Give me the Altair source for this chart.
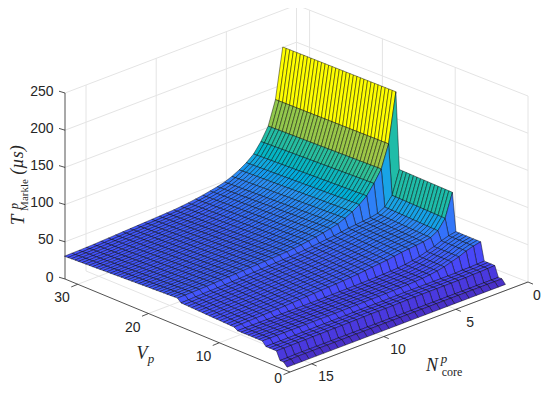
import altair as alt
import numpy as np

# ---- values ----
V_values = [0.5,1,1.5,2,2.5,3,3.5,4,4.5,5,5.5,6,6.5,7,7.5,8,8.5,9,9.5,10,10.5,11,11.5,12,12.5,13,13.5,14,14.5,15,15.5,
            16,16.5,17,17.5,18,18.5,19,19.5,20,20.5,21,21.5,22,22.5,23,23.5,24,24.5,25,25.5,26,26.5,27,27.5,28,28.5,29,29.5,30,30.5,31,31.5,32]
N_values = [1.33,1.84,2.35,2.86,3.37,3.88,4.38,4.89,5.40,5.91,6.42,6.93,7.44,7.95,8.45,8.96,9.47,9.98,10.49,11.0,11.5,
            12.01,12.52,13.03,13.54,14.05,14.56,15.07,15.58,16.08,16.6]
band_edges = [1, 2, 4, 8, 16]
# height along N for each V band, shortest-V band first
band_1_2 = [4.5,4.5,4.5,4.5,4.5,4.5,4.5,4.5,4.5,4.5,4.5,4.5,4.5,4.5,4.5,4.5,4.5,4.5,4.5,4.5,4.5,4.5,4.5,4.5,4.5,4.5,4.5,4.5,4.5,4.5,4.5]
band_2_4 = [10,10,10,10,10,10,10,10,10,10,10,10,10,10,10,10,10,10,10,10,10,10,10,10,10,10,10,10,10,9.5,9.5]
band_4_8 = [24,23.5,23,23,22.5,22.5,22.5,22.5,22.5,22.5,22.5,22.5,22.3,22.2,22,22,22,22,21.8,21.6,21.5,21.4,21.3,21.2,21,21,20.8,20.7,20.6,20.5,20.5]
band_8_16 = [48,46,43,39,36,33,31,29.5,28.5,28,27.5,27.2,27,26.8,26.6,26.5,26.4,26.3,26.2,26.1,26,26,26,26,26,26,26,26,26,26,26]
band_16_32 = [100,69,57,52,50,49,48,47,45.5,44,43,42,41,40,39.2,38.5,38,37.5,37,36.5,36,35.5,35,34.5,34,33.7,33.4,33,32.7,32.3,32]
band_top = [200,133,101,84,71,63,57,52,48,45.5,43.5,41.5,40,38.5,37.5,36.5,36,35.5,35,34.5,34,33.5,33,32.5,32,31.5,31,30.7,30.4,30.2,30]
bands = [band_1_2, band_2_4, band_4_8, band_8_16, band_16_32, band_top]
drift_by_V = [0]*15 + [-3,-2.8,-2.6,-2.4,-2.2,-2,-1.8,-1.6,-1.4,-1.2,-1,-.8,-.6,-.4,-.2,0,
              6.5,6.3,6.1,5.9,5.7,5.5,5.3,5.1,4.9,4.7,4.5,4.3,4.1,3.9,3.7,3.5,3.3,3.1,2.9,2.7,2.5,2.3,2.1,1.9,1.7,1.5,1.3,1.1,.9,.7,.5,.2,0]
drift_by_N = [.4,.5,.8] + [1]*28

z_ticks = [0,50,100,150,200,250]
V_ticks = [0,10,20,30]
N_ticks = [0,5,10,15]
parula_stops = [0,.03,.06,.1,.15,.2,.25,.3,.35,.4,.45,.5,.55,.6,.66,.7,.8,.9,1]
parula_cols = ["#4428b4","#4a34d0","#4a3ce6","#4a44f6","#4650fc","#3f62fc","#337cf8","#2a90f2","#1ea6e4","#11b2ce",
               "#14b8ba","#20bca8","#40c28a","#68c66a","#8cc850","#b0c640","#e8c030","#fbd824","#ffff00"]
CMAX = 200
INK = "#262626"
GRID = "#e4e4e4"

# ---- orthographic view of the box ----
OFF = 8
W, H = 534, 378
def P(V, N, z=0):
    return [528 - 14.3*N - 7.07*V - OFF, 282 + 5.42*N - 2.92*V - 0.744*z - OFF]

def feat(geom_type, coords, **props):
    return {"type": "Feature", "properties": props, "geometry": {"type": geom_type, "coordinates": coords}}

Z = np.zeros((len(V_values), len(N_values)))
for i, v in enumerate(V_values):
    b = int(np.searchsorted(band_edges, v, side="right"))
    for j in range(len(N_values)):
        Z[i, j] = bands[b][j] + drift_by_V[i]*drift_by_N[j]

cells = []
for i in range(len(V_values)-2, -1, -1):
    for j in range(len(N_values)-1):
        ring = [P(V_values[i],N_values[j],Z[i,j]), P(V_values[i+1],N_values[j],Z[i+1,j]),
                P(V_values[i+1],N_values[j+1],Z[i+1,j+1]), P(V_values[i],N_values[j+1],Z[i,j+1])]
        ring.append(ring[0])
        cells.append(feat("Polygon", [ring], c=float(Z[i,j])))

# walls
L0 = (65-OFF, 279-OFF); BK = (296.5-OFF, 191-OFF); R0 = (528-OFF, 282-OFF); F0 = (290-OFF, 372-OFF)
HZ = 0.744
def lerp(a, b, t): return [a[0]+(b[0]-a[0])*t, a[1]+(b[1]-a[1])*t]
def up(p, z): return [p[0], p[1]-HZ*z]
NMAX, VMAX = 16.5, 31.8
grid = []
for z in z_ticks[1:]:
    grid.append(feat("LineString", [up(L0,z), up(BK,z), up(R0,z)]))
for n in N_ticks:
    w = lerp(BK, L0, n/NMAX)
    grid.append(feat("LineString", [w, up(w,250)]))
    grid.append(feat("LineString", [w, lerp(R0, F0, n/NMAX)]))
for v in V_ticks:
    w = lerp(R0, BK, v/VMAX)
    grid.append(feat("LineString", [w, up(w,250)]))
    grid.append(feat("LineString", [w, lerp(F0, L0, v/VMAX)]))

axes = [feat("LineString", [up(L0,250), L0, F0, R0])]
for z in z_ticks:
    p = up(L0, z); axes.append(feat("LineString", [p, [p[0]-6, p[1]-1.8]]))
for v in V_ticks:
    p = lerp(F0, L0, v/VMAX); axes.append(feat("LineString", [p, [p[0]-6.5, p[1]+2.7]]))
for n in N_ticks:
    p = lerp(R0, F0, n/NMAX); axes.append(feat("LineString", [p, [p[0]+5, p[1]+2.1]]))

proj = alt.Projection(type="identity", scale=1, translate=[0, 0])

def shapes(features, **mark):
    return alt.Chart(alt.Data(values=features)).mark_geoshape(**mark).project(**proj.to_dict())

def text(rows, **mark):
    base = dict(font="Liberation Sans", fontSize=14, color=INK, baseline="middle")
    base.update(mark)
    return alt.Chart(alt.Data(values=[{"x": x, "y": y, "t": t} for x, y, t in rows])).mark_text(**base).encode(
        longitude="x:Q", latitude="y:Q", text="t:N").project(**proj.to_dict())

surface = alt.Chart(alt.Data(values=cells)).mark_geoshape(stroke="#000000", strokeWidth=0.45).encode(
    color=alt.Color("properties.c:Q", legend=None,
                    scale=alt.Scale(domain=[s*CMAX for s in parula_stops], range=parula_cols, clamp=True))
).project(**proj.to_dict())

z_labels = text([(up(L0,z)[0]-11.5, up(L0,z)[1]-1.5, str(z)) for z in z_ticks], align="right")
V_labels = text([(lerp(F0,L0,v/VMAX)[0]-8, min(lerp(F0,L0,v/VMAX)[1]+14, H-7), str(v)) for v in V_ticks], align="right")
N_labels = text([(min(lerp(R0,F0,n/NMAX)[0]+14.3, W-5), lerp(R0,F0,n/NMAX)[1]+13.5, str(n)) for n in N_ticks], align="center")

SERIF = "Liberation Serif"
titles = [
    text([(142-OFF, 354-OFF, "V")], font=SERIF, fontStyle="italic", fontSize=18, align="center"),
    text([(151-OFF, 359-OFF, "p")], font=SERIF, fontStyle="italic", fontSize=13, align="center"),
    text([(432-OFF, 366-OFF, "N")], font=SERIF, fontStyle="italic", fontSize=18, align="center"),
    text([(444-OFF, 359-OFF, "p")], font=SERIF, fontStyle="italic", fontSize=13, align="center"),
    text([(452-OFF, 372-OFF, "core")], font=SERIF, fontSize=12, align="center"),
    text([(18-OFF, 220-OFF, "T")], font=SERIF, fontStyle="italic", fontSize=19, align="center", angle=270),
    text([(14-OFF, 206-OFF, "p")], font=SERIF, fontStyle="italic", fontSize=12, align="center", angle=270),
    text([(24.5-OFF, 195-OFF, "Markle")], font=SERIF, fontSize=11, align="center", angle=270),
    text([(18-OFF, 160-OFF, "(µs)")], font=SERIF, fontStyle="italic", fontSize=18, align="center", angle=270),
]

chart = alt.layer(
    shapes(grid, filled=False, stroke=GRID, strokeWidth=1),
    shapes(axes, filled=False, stroke=INK, strokeWidth=0.8),
    surface, z_labels, V_labels, N_labels, *titles
).properties(width=W, height=H, padding=0, autosize=alt.AutoSizeParams(type="none")
).configure_view(stroke=None)

chart.save("out.html", embed_options={"renderer": "svg", "actions": False})
